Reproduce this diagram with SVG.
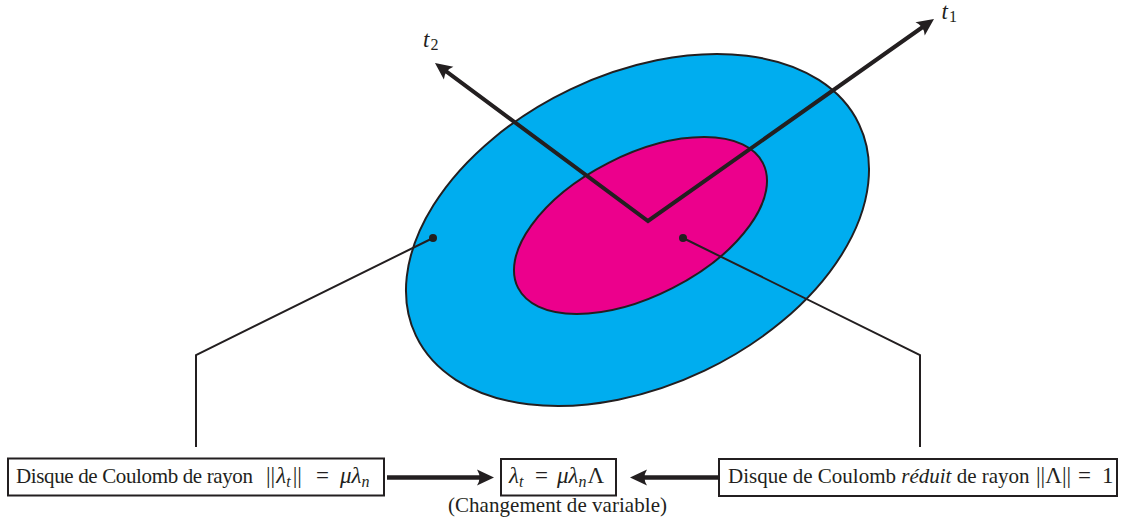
<svg xmlns="http://www.w3.org/2000/svg" width="1126" height="523" viewBox="0 0 1126 523">
<style>
.t{font-family:"Liberation Serif","DejaVu Serif",serif;font-size:21px;fill:#231F20}
.m{font-size:23px}
.i{font-style:italic}
.s{font-size:16px}
.box{fill:#fff;stroke:#231F20;stroke-width:2}
.disk{stroke:#231F20;stroke-width:2}
.leader{fill:none;stroke:#231F20;stroke-width:2}
.axis{fill:none;stroke:#231F20;stroke-width:4;stroke-linejoin:miter}
.thick{fill:none;stroke:#231F20;stroke-width:4.5}
</style>
<defs>
<marker id="ah" markerUnits="userSpaceOnUse" markerWidth="30" markerHeight="30" viewBox="-20 -12 30 24" refX="0" refY="0" orient="auto-start-reverse" overflow="visible">
<path d="M6,0 L-11,-8 Q-6,0 -11,8 Z" fill="#231F20"/>
</marker>
</defs>
<g id="outer-disk">
<ellipse class="disk" cx="637.5" cy="230" rx="245.5" ry="155.8" transform="rotate(-25.5 637.5 230)" fill="#00ADEF"/>
</g>
<g id="inner-disk">
<ellipse class="disk" cx="640.5" cy="225.5" rx="137.4" ry="70.3" transform="rotate(-27 640.5 225.5)" fill="#EC008C"/>
</g>
<g id="axes">
<polyline class="axis" points="439.8,66.6 648,221 929.1,22.5" marker-start="url(#ah)" marker-end="url(#ah)"/>
<text class="t" x="941.5" y="18.5"><tspan class="i m">t</tspan><tspan class="s" dx="1" dy="3">1</tspan></text>
<text class="t" x="423" y="46.5"><tspan class="i m">t</tspan><tspan class="s" dx="1" dy="3">2</tspan></text>
</g>
<g id="connectors">
<circle cx="433" cy="238" r="4" fill="#231F20"/>
<circle cx="683" cy="238" r="4" fill="#231F20"/>
<polyline class="leader" points="433,238 196,355 196,447"/>
<polyline class="leader" points="683,238 920,355 920,447"/>
<line class="thick" x1="387" y1="477.5" x2="488" y2="477.5" marker-end="url(#ah)"/>
<line class="thick" x1="719" y1="477.5" x2="636" y2="477.5" marker-end="url(#ah)"/>
</g>
<g id="box-left">
<rect class="box" x="8" y="458.5" width="376" height="37"/>
<text class="t" y="483"><tspan x="16" textLength="237" lengthAdjust="spacing">Disque de Coulomb de rayon</tspan><tspan x="266" class="m">||</tspan><tspan class="i m" dx="1">λ</tspan><tspan y="487" class="i s">t</tspan><tspan y="483" dx="2" class="m">||</tspan><tspan x="316" class="m">=</tspan><tspan x="340" class="i m">μλ</tspan><tspan y="487" class="i s">n</tspan></text>
</g>
<g id="box-center">
<rect class="box" x="501" y="459" width="115" height="36.5"/>
<text class="t" y="483"><tspan x="509" class="i m">λ</tspan><tspan y="487" class="i s">t</tspan><tspan x="535" y="483" class="m">=</tspan><tspan x="557" class="i m">μλ</tspan><tspan y="487" class="i s">n</tspan><tspan y="483" dx="1" class="m">Λ</tspan></text>
<text class="t" x="448" y="512" textLength="219" lengthAdjust="spacing">(Changement de variable)</text>
</g>
<g id="box-right">
<rect class="box" x="719" y="459" width="398" height="37"/>
<text class="t" y="483"><tspan x="728">Disque de Coulomb </tspan><tspan class="i">réduit</tspan><tspan> de rayon</tspan><tspan x="1036" class="m">||Λ||</tspan><tspan x="1078" class="m">=</tspan><tspan x="1102" class="m">1</tspan></text>
</g>
</svg>
